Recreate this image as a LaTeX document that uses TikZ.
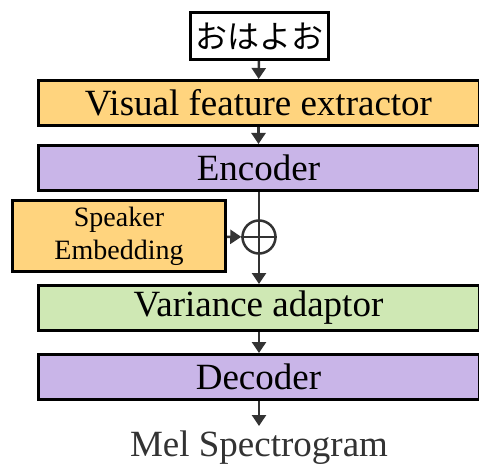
\documentclass[tikz,border=0pt]{standalone}
\usepackage{fontspec}
\setmainfont{Liberation Serif}
\newfontfamily\jpfont{Noto Sans CJK JP}
\usetikzlibrary{arrows.meta}
\definecolor{boxorange}{HTML}{FFD47E}
\definecolor{boxpurple}{HTML}{C9B5E8}
\definecolor{boxgreen}{HTML}{CFE8B4}
\definecolor{linegray}{HTML}{333333}
\tikzset{
  block/.style={draw=black, line width=3pt, minimum width=441pt, minimum height=45pt,
    inner sep=0pt, font=\fontsize{37}{40}\selectfont},
  flow/.style={draw=linegray, line width=2.5pt, -{Triangle[length=11pt,width=14pt]}},
}
\begin{document}
\begin{tikzpicture}[x=1pt,y=-1pt]
\useasboundingbox (0,0) rectangle (479,468);
\node[draw=black, line width=3pt, fill=white, minimum width=138pt, minimum height=47pt, inner sep=0pt,
  font=\jpfont\fontsize{32}{34}\selectfont] (txt) at (259,36) {おはよお};
\node[block, fill=boxorange] (vfe) at (258.5,103) {Visual feature extractor};
\node[block, fill=boxpurple] (enc) at (258.5,168) {Encoder};
\node[draw=black, line width=3pt, fill=boxorange, minimum width=213pt, minimum height=71pt,
  inner sep=0pt, align=center, font=\fontsize{28}{33}\selectfont] (spk) at (119,236) {Speaker\\Embedding};
\node[draw=linegray, line width=2.5pt, circle, minimum size=33pt, inner sep=0pt] (add) at (259,237) {};
\draw[linegray, line width=2.5pt] (add.north) -- (add.south) (add.west) -- (add.east);
\node[block, fill=boxgreen] (var) at (258.5,308) {Variance adaptor};
\node[block, fill=boxpurple] (dec) at (258.5,377) {Decoder};
\node[text=linegray, font=\fontsize{37}{40}\selectfont, inner sep=0pt] (mel) at (259,448) {Mel Spectrogram};
\coordinate (melin) at (259,426);
\draw[flow] (txt) -- (vfe);
\draw[flow] (vfe) -- (enc);
\draw[draw=linegray, line width=2.5pt] (enc.south -| add) -- (add.north);
\draw[flow] (add.south) -- (var.north -| add);
\draw[flow] (spk) -- (add);
\draw[flow] (var.south -| add) -- (dec.north -| add);
\draw[flow] (dec.south -| add) -- (melin);
\end{tikzpicture}
\end{document}
